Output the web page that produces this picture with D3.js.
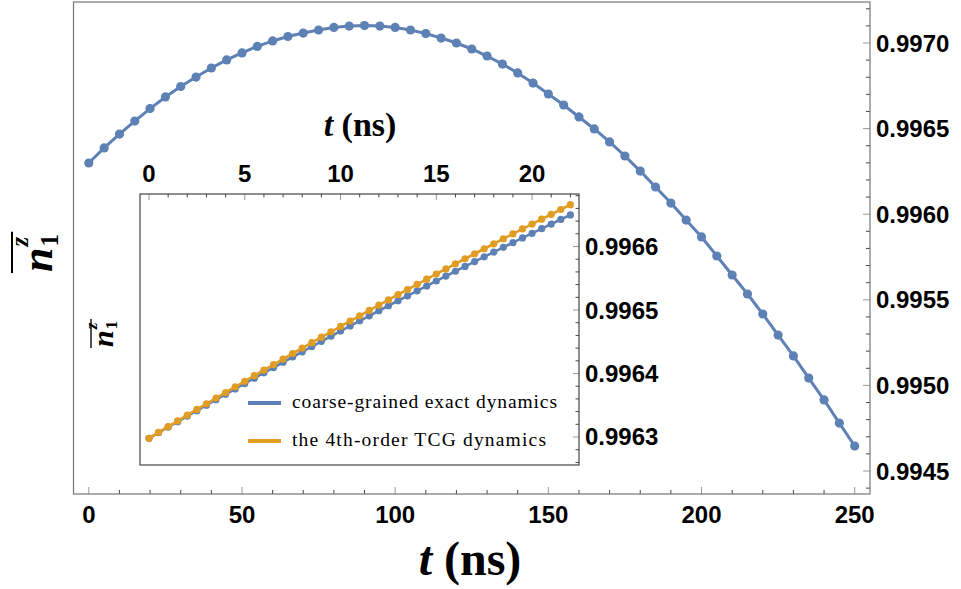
<!DOCTYPE html>
<html>
<head>
<meta charset="utf-8">
<script src="https://cdn.jsdelivr.net/npm/d3@7"></script>
<style>
  body { margin: 0; background: #fff; }
  svg { display: block; }
</style>
</head>
<body>
<div id="chart"></div>
<script>
// main panel: coarse-grained exact dynamics over 250 ns
const mainT = [0, 5, 10, 15, 20, 25, 30, 35, 40, 45, 50, 55, 60, 65, 70, 75, 80, 85, 90, 95,
  100, 105, 110, 115, 120, 125, 130, 135, 140, 145, 150, 155, 160, 165, 170, 175, 180, 185, 190, 195,
  200, 205, 210, 215, 220, 225, 230, 235, 240, 245, 250];
const mainValues = [0.996299, 0.996387, 0.996468, 0.996544, 0.996617, 0.996685, 0.996746, 0.996801,
  0.996854, 0.996901, 0.996942, 0.996980, 0.997012, 0.997038, 0.997058, 0.997076, 0.997091, 0.997099,
  0.997102, 0.997099, 0.997091, 0.997076, 0.997055, 0.997029, 0.997000, 0.996965, 0.996924, 0.996877,
  0.996825, 0.996766, 0.996702, 0.996638, 0.996568, 0.996498, 0.996422, 0.996340, 0.996252, 0.996159,
  0.996065, 0.995966, 0.995867, 0.995756, 0.995645, 0.995534, 0.995417, 0.995294, 0.995172, 0.995043,
  0.994915, 0.994780, 0.994646];

// inset: first 22 ns, exact vs 4th-order TCG
const insetT = [0, 0.5, 1, 1.5, 2, 2.5, 3, 3.5, 4, 4.5, 5, 5.5, 6, 6.5, 7, 7.5, 8, 8.5, 9, 9.5,
  10, 10.5, 11, 11.5, 12, 12.5, 13, 13.5, 14, 14.5, 15, 15.5, 16, 16.5, 17, 17.5, 18, 18.5, 19, 19.5,
  20, 20.5, 21, 21.5, 22];
const insetExact = [0.996298, 0.9963068, 0.9963155, 0.9963242, 0.9963329, 0.9963415, 0.9963501,
  0.9963587, 0.9963672, 0.9963757, 0.9963842, 0.9963926, 0.996401, 0.9964094, 0.9964177, 0.996426,
  0.9964342, 0.9964424, 0.9964506, 0.9964587, 0.9964668, 0.9964749, 0.9964829, 0.9964909, 0.9964988,
  0.9965067, 0.9965146, 0.9965224, 0.9965302, 0.996538, 0.9965457, 0.9965534, 0.996561, 0.9965686,
  0.9965762, 0.9965837, 0.9965912, 0.9965987, 0.9966061, 0.9966135, 0.9966208, 0.9966281, 0.9966354,
  0.9966426, 0.9966498];
const insetTCG = [0.996298, 0.9963072, 0.9963163, 0.9963254, 0.9963344, 0.9963434, 0.9963523,
  0.9963613, 0.9963701, 0.996379, 0.9963878, 0.9963966, 0.9964054, 0.9964141, 0.9964228, 0.9964315,
  0.9964401, 0.9964486, 0.9964572, 0.9964657, 0.9964741, 0.9964826, 0.9964909, 0.9964993, 0.9965076,
  0.9965158, 0.9965241, 0.9965323, 0.9965404, 0.9965486, 0.9965567, 0.9965647, 0.9965727, 0.9965807,
  0.9965886, 0.9965965, 0.9966043, 0.9966122, 0.9966199, 0.9966277, 0.9966354, 0.9966431, 0.9966507,
  0.9966583, 0.9966659];

const mainXTicks = [0, 50, 100, 150, 200, 250];
const mainYTicks = [0.9945, 0.9950, 0.9955, 0.9960, 0.9965, 0.9970];
const insetXTicks = [0, 5, 10, 15, 20];
const insetYTicks = [0.9963, 0.9964, 0.9965, 0.9966];
const legendLabels = ["coarse-grained exact dynamics", "the 4th-order TCG dynamics"];

const BLUE = "#5e81b5", ORANGE = "#e19c24";
const width = 961, height = 589;
const tickFont = "'Liberation Sans', Arial, sans-serif";
const serif = "'Liberation Serif', 'Times New Roman', serif";

const svg = d3.select("#chart").append("svg")
  .attr("width", width).attr("height", height);

// ---- main panel
const M = { left: 73.5, right: 870, top: 2, bottom: 494 };
const x = d3.scaleLinear().domain([-5, 255]).range([M.left, M.right]);
const y = d3.scaleLinear().domain([0.9943657, 0.9972395]).range([M.bottom, M.top]);

const mainG = svg.append("g");

// bottom ticks (inward)
mainG.selectAll(".xminor").data(d3.range(10, 250, 10).filter(v => v % 50 !== 0))
  .join("line")
  .attr("x1", d => x(d)).attr("x2", d => x(d))
  .attr("y1", M.bottom).attr("y2", M.bottom - 4)
  .attr("stroke", "#444").attr("stroke-width", 1);
mainG.selectAll(".xmajor").data(mainXTicks)
  .join("line")
  .attr("x1", d => x(d)).attr("x2", d => x(d))
  .attr("y1", M.bottom).attr("y2", M.bottom - 7)
  .attr("stroke", "#999").attr("stroke-width", 1);
mainG.selectAll(".xlab").data(mainXTicks)
  .join("text")
  .attr("x", d => x(d)).attr("y", 523)
  .attr("text-anchor", "middle")
  .style("font-family", tickFont).style("font-weight", "bold").style("font-size", "24px")
  .text(d => d);

// right ticks (inward)
mainG.selectAll(".yminor").data(d3.range(9944, 9973).map(v => v / 10000).filter(v => Math.round(v * 10000) % 5 !== 0))
  .join("line")
  .attr("x1", M.right).attr("x2", M.right - 4)
  .attr("y1", d => y(d)).attr("y2", d => y(d))
  .attr("stroke", "#444").attr("stroke-width", 1);
mainG.selectAll(".ymajor").data(mainYTicks)
  .join("line")
  .attr("x1", M.right).attr("x2", M.right - 7)
  .attr("y1", d => y(d)).attr("y2", d => y(d))
  .attr("stroke", "#999").attr("stroke-width", 1);
mainG.selectAll(".ylab").data(mainYTicks)
  .join("text")
  .attr("x", 876).attr("y", d => y(d) + 8.5)
  .style("font-family", tickFont).style("font-weight", "bold").style("font-size", "24px")
  .text(d => d3.format(".4f")(d));

mainG.append("rect")
  .attr("x", M.left).attr("y", M.top)
  .attr("width", M.right - M.left).attr("height", M.bottom - M.top)
  .attr("fill", "none").attr("stroke", "#777").attr("stroke-width", 1.2);

const mainLine = d3.line().x((d, i) => x(mainT[i])).y(d => y(d));
mainG.append("path").datum(mainValues)
  .attr("d", mainLine)
  .attr("fill", "none").attr("stroke", BLUE).attr("stroke-width", 3);
mainG.selectAll(".mdot").data(mainValues)
  .join("circle")
  .attr("cx", (d, i) => x(mainT[i])).attr("cy", d => y(d))
  .attr("r", 4.6).attr("fill", BLUE);

// axis titles
const xTitle = svg.append("text")
  .attr("x", 470).attr("y", 575)
  .attr("text-anchor", "middle")
  .style("font-family", serif).style("font-weight", "bold").style("font-size", "48px");
xTitle.append("tspan").style("font-style", "italic").text("t");
xTitle.append("tspan").text(" (ns)");

function nLabel(cx, cy, big, small, over) {
  const g = svg.append("g").attr("transform", `translate(${cx},${cy}) rotate(-90)`);
  const n = g.append("text").attr("x", 0).attr("y", 0)
    .style("font-family", serif).style("font-weight", "bold").style("font-style", "italic")
    .style("font-size", big + "px").text("n");
  const w = n.node().getComputedTextLength();
  g.append("text").attr("x", w + 1).attr("y", small * 0.25)
    .style("font-family", serif).style("font-weight", "bold")
    .style("font-size", small + "px").text("1");
  g.append("text").attr("x", w + 1).attr("y", -big * 0.55)
    .style("font-family", serif).style("font-weight", "bold").style("font-style", "italic")
    .style("font-size", small + "px").text("z");
  g.append("line")
    .attr("x1", -1).attr("x2", w + small * 0.55 + 2)
    .attr("y1", -over).attr("y2", -over)
    .attr("stroke", "#000").attr("stroke-width", big / 22);
}
nLabel(52, 272, 44, 25, 40);

// ---- inset
const I = { left: 140, right: 579, top: 194, bottom: 465 };
const xi = d3.scaleLinear().domain([-0.47, 22.45]).range([I.left, I.right]);
const yi = d3.scaleLinear().domain([0.9962559, 0.9966827]).range([I.bottom, I.top]);

const inG = svg.append("g");
inG.append("rect")
  .attr("x", I.left).attr("y", I.top)
  .attr("width", I.right - I.left).attr("height", I.bottom - I.top)
  .attr("fill", "#fff");

// top ticks
inG.selectAll(".ixminor").data(d3.range(1, 23).filter(v => v % 5 !== 0))
  .join("line")
  .attr("x1", d => xi(d)).attr("x2", d => xi(d))
  .attr("y1", I.top).attr("y2", I.top + 3.5)
  .attr("stroke", "#444");
inG.selectAll(".ixmajor").data(insetXTicks)
  .join("line")
  .attr("x1", d => xi(d)).attr("x2", d => xi(d))
  .attr("y1", I.top).attr("y2", I.top + 6)
  .attr("stroke", "#999");
inG.selectAll(".ixlab").data(insetXTicks)
  .join("text")
  .attr("x", d => xi(d)).attr("y", 182)
  .attr("text-anchor", "middle")
  .style("font-family", tickFont).style("font-weight", "bold").style("font-size", "24px")
  .text(d => d);

// right ticks
inG.selectAll(".iyminor").data(d3.range(99626, 99669, 2).map(v => v / 100000).filter(v => Math.round(v * 100000) % 10 !== 0))
  .join("line")
  .attr("x1", I.right).attr("x2", I.right - 3.5)
  .attr("y1", d => yi(d)).attr("y2", d => yi(d))
  .attr("stroke", "#444");
inG.selectAll(".iymajor").data(insetYTicks)
  .join("line")
  .attr("x1", I.right).attr("x2", I.right - 6)
  .attr("y1", d => yi(d)).attr("y2", d => yi(d))
  .attr("stroke", "#999");
inG.selectAll(".iylab").data(insetYTicks)
  .join("text")
  .attr("x", 585).attr("y", d => yi(d) + 8.5)
  .style("font-family", tickFont).style("font-weight", "bold").style("font-size", "24px")
  .text(d => d3.format(".4f")(d));

const inLine = d3.line().x((d, i) => xi(insetT[i])).y(d => yi(d));
[[insetExact, BLUE], [insetTCG, ORANGE]].forEach(([vals, col]) => {
  inG.append("path").datum(vals)
    .attr("d", inLine)
    .attr("fill", "none").attr("stroke", col).attr("stroke-width", 2.6);
  inG.append("g").selectAll("circle").data(vals)
    .join("circle")
    .attr("cx", (d, i) => xi(insetT[i])).attr("cy", d => yi(d))
    .attr("r", 3.6).attr("fill", col);
});

inG.append("rect")
  .attr("x", I.left).attr("y", I.top)
  .attr("width", I.right - I.left).attr("height", I.bottom - I.top)
  .attr("fill", "none").attr("stroke", "#444").attr("stroke-width", 1.2);

// legend - serif text stretched to the width of the original's CM font
const legendWidths = [265, 254];
const legend = inG.append("g");
legendLabels.forEach((lab, i) => {
  const ly = 403 + i * 38;
  legend.append("line")
    .attr("x1", 248).attr("x2", 281).attr("y1", ly).attr("y2", ly)
    .attr("stroke", i === 0 ? BLUE : ORANGE).attr("stroke-width", 4);
  legend.append("text")
    .attr("x", 292).attr("y", ly + 5)
    .attr("textLength", legendWidths[i]).attr("lengthAdjust", "spacing")
    .style("font-family", serif).style("font-size", "19.5px")
    .text(lab);
});

const ixTitle = svg.append("text")
  .attr("x", 360).attr("y", 136)
  .attr("text-anchor", "middle")
  .style("font-family", serif).style("font-weight", "bold").style("font-size", "34px");
ixTitle.append("tspan").style("font-style", "italic").text("t");
ixTitle.append("tspan").text(" (ns)");

nLabel(113, 347, 30, 17, 22);
</script>
</body>
</html>
